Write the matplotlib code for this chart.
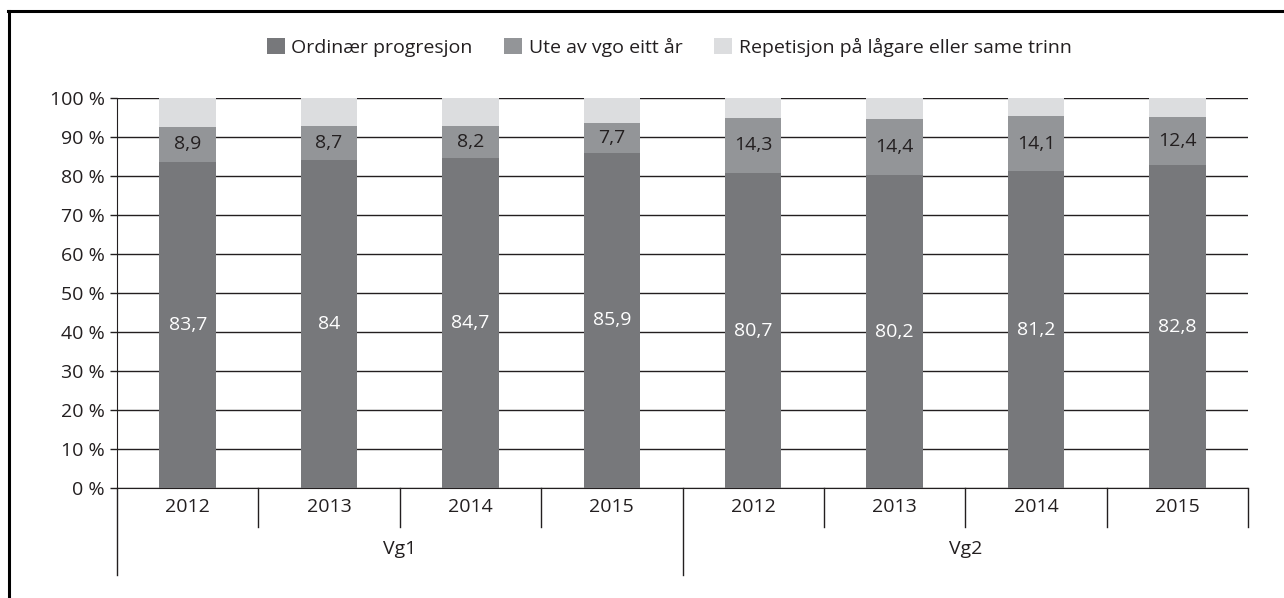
import numpy as np
import matplotlib.pyplot as plt
from matplotlib.lines import Line2D

plt.rcParams["font.family"] = ["Open Sans", "DejaVu Sans"]

years = ["2012", "2013", "2014", "2015", "2012", "2013", "2014", "2015"]
groups = ["Vg1", "Vg2"]
ordinaer = [83.7, 84, 84.7, 85.9, 80.7, 80.2, 81.2, 82.8]
ute = [8.9, 8.7, 8.2, 7.7, 14.3, 14.4, 14.1, 12.4]
repetisjon = [7.4, 7.3, 7.1, 6.4, 5.0, 5.4, 4.7, 4.8]
series_names = ["Ordinær progresjon", "Ute av vgo eitt år",
                "Repetisjon på lågare eller same trinn"]

colors = ["#77787b", "#939598", "#dcdddf"]
txt = "#231f20"
fs = 14

fig = plt.figure(figsize=(12.84, 5.98), dpi=100)
ax = fig.add_axes([117 / 1284, 1 - 488 / 598, (1248 - 117) / 1284, 390 / 598])

x = np.arange(len(years))
w = 0.4
b1 = ax.bar(x, ordinaer, w, color=colors[0], label=series_names[0], zorder=3)
b2 = ax.bar(x, ute, w, bottom=ordinaer, color=colors[1], label=series_names[1], zorder=3)
b3 = ax.bar(x, repetisjon, w, bottom=np.add(ordinaer, ute), color=colors[2],
            label=series_names[2], zorder=3)

fmt = lambda v: f"{v:g}".replace(".", ",")
ax.bar_label(b1, labels=[fmt(v) for v in ordinaer], label_type="center",
             color="white", fontsize=fs)
ax.bar_label(b2, labels=[fmt(v) for v in ute], label_type="center",
             color=txt, fontsize=fs)

ax.set_xlim(-0.5, len(years) - 0.5)
ax.set_ylim(0, 100)
ax.set_yticks(np.arange(0, 101, 10))
ax.set_yticklabels([f"{v} %" for v in range(0, 101, 10)], fontsize=fs, color=txt)
ax.yaxis.grid(True, color=txt, linewidth=1, zorder=0)
ax.tick_params(axis="y", length=5, width=1, color=txt, pad=4)
ax.set_xticks([])
for s in ["top", "right"]:
    ax.spines[s].set_visible(False)
ax.spines["left"].set_color(txt)
ax.spines["bottom"].set_color(txt)

# category axis with separators
tr = ax.get_xaxis_transform()
for i in range(len(years) + 1):
    depth = -0.223 if i in (0, 4) else -0.1
    ax.plot([i - 0.5, i - 0.5], [0, depth], transform=tr, color=txt,
            linewidth=1, clip_on=False)
for i, yr in enumerate(years):
    ax.text(i, -0.05, yr, transform=tr, ha="center", va="center",
            fontsize=fs, color=txt)
for g, lab in enumerate(groups):
    ax.text(g * 4 + 1.5, -0.157, lab, transform=tr, ha="center", va="center",
            fontsize=fs, color=txt)

ax.legend(loc="center", bbox_to_anchor=(669 / 1284, 1 - 47 / 598),
          bbox_transform=fig.transFigure, ncol=3, frameon=False,
          fontsize=fs, handlelength=0.93, handleheight=0.93,
          columnspacing=1.6, handletextpad=0.35, labelcolor=txt)

# frame lines on the figure
fig.add_artist(Line2D([9 / 1284, 9 / 1284], [0, 1 - 11 / 598], color="black",
                      linewidth=2.2, transform=fig.transFigure))
fig.add_artist(Line2D([8 / 1284, 1], [1 - 11 / 598, 1 - 11 / 598], color="black",
                      linewidth=2.2, transform=fig.transFigure))

fig.savefig("out.png", dpi=100)
